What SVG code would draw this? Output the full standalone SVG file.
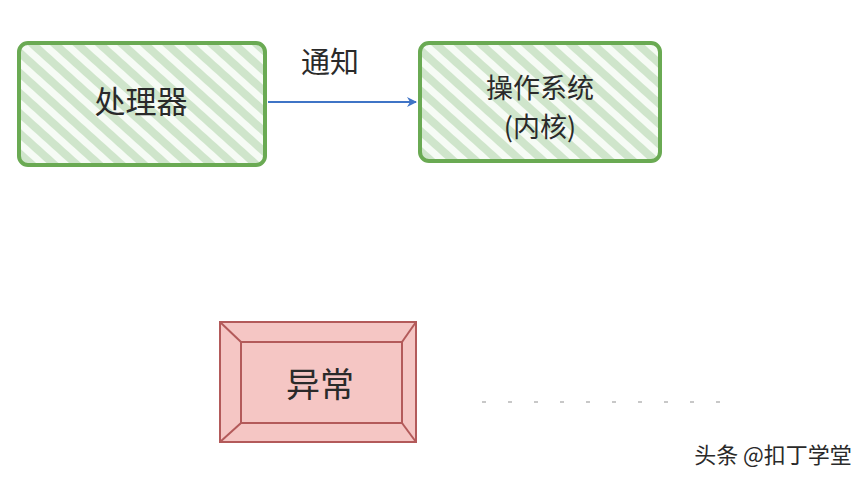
<svg xmlns="http://www.w3.org/2000/svg" width="866" height="478" viewBox="0 0 866 478">
<defs>
<pattern id="hatch" width="15" height="15" patternUnits="userSpaceOnUse" patternTransform="rotate(-48)">
<rect width="15" height="15" fill="#f6fbf5"/>
<rect x="0" y="0" width="8" height="15" fill="#cfe5cb"/>
</pattern>
<marker id="arr" viewBox="0 0 10 10" refX="9" refY="5" markerWidth="5" markerHeight="5" orient="auto">
<path d="M0,0 L10,5 L0,10 L3,5 Z" fill="#3f74c6"/>
</marker>
<style>
.g{fill:url(#hatch);stroke:#6aaa53;stroke-width:4;}
.t{font-family:"Noto Sans CJK SC","Noto Sans",sans-serif;fill:#2a2a2a;text-anchor:middle;}
.r{fill:#f5c6c4;stroke:#b35a5a;stroke-width:2;}
</style>
</defs>
<rect width="866" height="478" fill="#ffffff"/>
<g id="connectors">
<line x1="268" y1="102" x2="416" y2="102" stroke="#3f74c6" stroke-width="2" marker-end="url(#arr)"/>
<text class="t" x="330" y="73" font-size="29">通知</text>
<line x1="482" y1="402" x2="732" y2="402" stroke="#c8c8c8" stroke-width="2" stroke-dasharray="4 22"/>
</g>
<g id="cpu">
<rect class="g" x="19" y="43" width="246" height="122" rx="9"/>
<text class="t" x="141" y="113" font-size="31">处理器</text>
</g>
<g id="os">
<rect class="g" x="420" y="43" width="240" height="118" rx="9"/>
<text class="t" x="540" y="98" font-size="27">操作系统</text>
<text class="t" x="540" y="137" font-size="27">(内核)</text>
</g>
<g id="exception">
<rect class="r" x="220" y="322" width="196" height="120"/>
<rect class="r" x="241" y="342" width="161" height="81"/>
<line x1="220" y1="322" x2="241" y2="342" stroke="#b35a5a" stroke-width="2"/>
<line x1="416" y1="322" x2="402" y2="342" stroke="#b35a5a" stroke-width="2"/>
<line x1="220" y1="442" x2="241" y2="423" stroke="#b35a5a" stroke-width="2"/>
<line x1="416" y1="442" x2="402" y2="423" stroke="#b35a5a" stroke-width="2"/>
<text class="t" x="320" y="397" font-size="34">异常</text>
</g>
<text class="t" x="773" y="463" font-size="22" fill="#333">头条 @扣丁学堂</text>
</svg>
